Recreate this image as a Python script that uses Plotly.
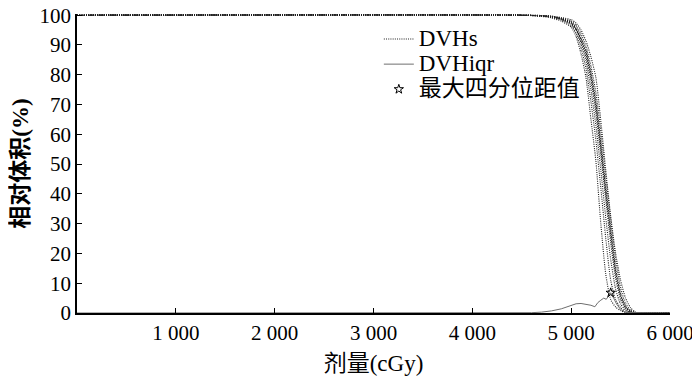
import plotly.graph_objects as go

# ---------------- data ----------------
dose_grid = [0, 4500, 4700, 4800, 4900, 5000, 5050, 5100, 5150, 5200, 5250,
             5300, 5350, 5400, 5450, 5500, 5550, 5600, 5650, 5700, 6000]

dvh_L1 = [100, 100, 99.6, 99.1, 98.0, 96.0, 92.8, 87.0, 79.0, 65.0, 51.0, 30.0, 13.0, 4.5, 2.0, 0.8, 0.1, 0, 0, 0, 0]
dvh_L2 = [100, 100, 99.7, 99.3, 98.4, 96.5, 93.8, 89.0, 82.0, 71.0, 58.0, 42.0, 25.0, 11.0, 4.5, 1.8, 0.5, 0.1, 0, 0, 0]
dvh_L3 = [100, 100, 99.7, 99.4, 98.6, 97.0, 94.8, 90.5, 84.5, 75.0, 63.0, 48.0, 32.0, 18.0, 8.0, 3.0, 1.0, 0.2, 0, 0, 0]
dvh_L4 = [100, 100, 99.8, 99.5, 98.7, 97.2, 95.2, 91.3, 86.0, 78.0, 67.0, 53.0, 38.0, 23.5, 11.5, 4.5, 1.5, 0.3, 0, 0, 0]
dvh_C1 = [100, 100, 99.8, 99.5, 98.8, 97.5, 95.5, 92.0, 87.5, 80.0, 70.0, 56.0, 41.0, 27.0, 14.0, 6.0, 2.0, 0.5, 0, 0, 0]
dvh_C2 = [100, 100, 99.8, 99.6, 98.9, 97.7, 95.9, 92.6, 88.3, 81.0, 71.2, 57.5, 42.5, 28.5, 15.0, 6.5, 2.2, 0.6, 0.1, 0, 0]
dvh_C3 = [100, 100, 99.8, 99.5, 98.8, 97.4, 95.3, 91.7, 87.0, 79.3, 69.0, 55.0, 40.0, 26.0, 13.3, 5.6, 1.9, 0.5, 0.1, 0, 0]
dvh_R1 = [100, 100, 99.9, 99.6, 99.0, 98.0, 96.5, 93.8, 89.5, 83.0, 74.0, 61.0, 46.0, 31.5, 18.0, 8.5, 3.2, 1.0, 0.2, 0, 0]
dvh_R2 = [100, 100, 99.9, 99.7, 99.2, 98.5, 97.3, 95.0, 91.3, 86.0, 79.0, 64.5, 48.0, 32.5, 20.0, 11.0, 5.0, 1.8, 0.3, 0, 0]

dvh_curves = [dvh_L1, dvh_L2, dvh_L3, dvh_L4, dvh_C1, dvh_C2, dvh_C3, dvh_R1, dvh_R2]

iqr_dose = [0, 4500, 4600, 4700, 4800, 4900, 5000, 5050, 5100, 5150, 5200, 5240,
            5270, 5300, 5330, 5355, 5380, 5400, 5430, 5460, 5500, 5550, 6000]
iqr_vol = [0, 0, 0.1, 0.3, 0.7, 1.4, 2.6, 3.1, 3.2, 3.0, 2.6, 2.1,
           3.5, 4.3, 5.0, 4.6, 5.8, 6.8, 5.0, 3.0, 1.2, 0.2, 0]

max_iqr_dose = [5400]
max_iqr_vol = [6.8]

x_tick_vals = [1000, 2000, 3000, 4000, 5000, 6000]
x_tick_text = ["1 000", "2 000", "3 000", "4 000", "5 000", "6 000"]
y_tick_vals = [0, 10, 20, 30, 40, 50, 60, 70, 80, 90, 100]

legend_names = ["DVHs", "DVHiqr", "最大四分位距值"]
x_title = "剂量(cGy)"
y_title = "相对体积(%)"

# ---------------- figure ----------------
FONT = "Liberation Serif, Times New Roman, Noto Sans CJK SC, serif"


def big(txt):
    return '<span style="font-size:23px">' + txt + "</span>"


fig = go.Figure()

for i, vals in enumerate(dvh_curves):
    fig.add_trace(go.Scatter(
        x=dose_grid, y=vals, mode="lines",
        line=dict(color="#1e1e1e", width=1.1, dash="1px,1.2px", shape="spline", smoothing=0.6),
        name=big(legend_names[0]), showlegend=(i == 0), legendrank=1,
    ))

fig.add_trace(go.Scatter(
    x=iqr_dose, y=iqr_vol, mode="lines",
    line=dict(color="#6e6e6e", width=1),
    name=big(legend_names[1]), legendrank=2,
))

fig.add_trace(go.Scatter(
    x=max_iqr_dose, y=max_iqr_vol, mode="markers",
    marker=dict(symbol="star-open", size=7, color="black", line=dict(width=1, color="black")),
    name=big(legend_names[2]), legendrank=3,
))

axis_common = dict(
    showgrid=False, zeroline=False, showline=True, linecolor="black", linewidth=1.5,
    ticks="inside", ticklen=5, tickwidth=1, tickcolor="black",
    tickfont=dict(family=FONT, size=21, color="black"),
    automargin=False, ticklabeloverflow="allow",
)

fig.update_xaxes(
    range=[0, 6000], tickvals=x_tick_vals, ticktext=x_tick_text,
    title=dict(text=x_title, font=dict(family=FONT, size=23, color="black"), standoff=11),
    **axis_common,
)
fig.update_yaxes(
    range=[0, 100.4], tickvals=y_tick_vals,
    title=dict(text="<b>" + y_title + "</b>", font=dict(family=FONT, size=23, color="black"), standoff=4),
    **axis_common,
)

# the page body adds an 8px offset, so the figure is 8px smaller and margins shifted
fig.update_layout(
    width=692, height=369,
    margin=dict(l=69, r=30, t=6, b=64, autoexpand=False),
    plot_bgcolor="white", paper_bgcolor="white",
    showlegend=True,
    legend=dict(
        x=0.509, y=0.975, xanchor="left", yanchor="top",
        bgcolor="rgba(0,0,0,0)", borderwidth=0,
        font=dict(family=FONT, size=17, color="black"),
        itemwidth=30, tracegroupgap=0,
    ),
)

fig.write_html("out.html")
